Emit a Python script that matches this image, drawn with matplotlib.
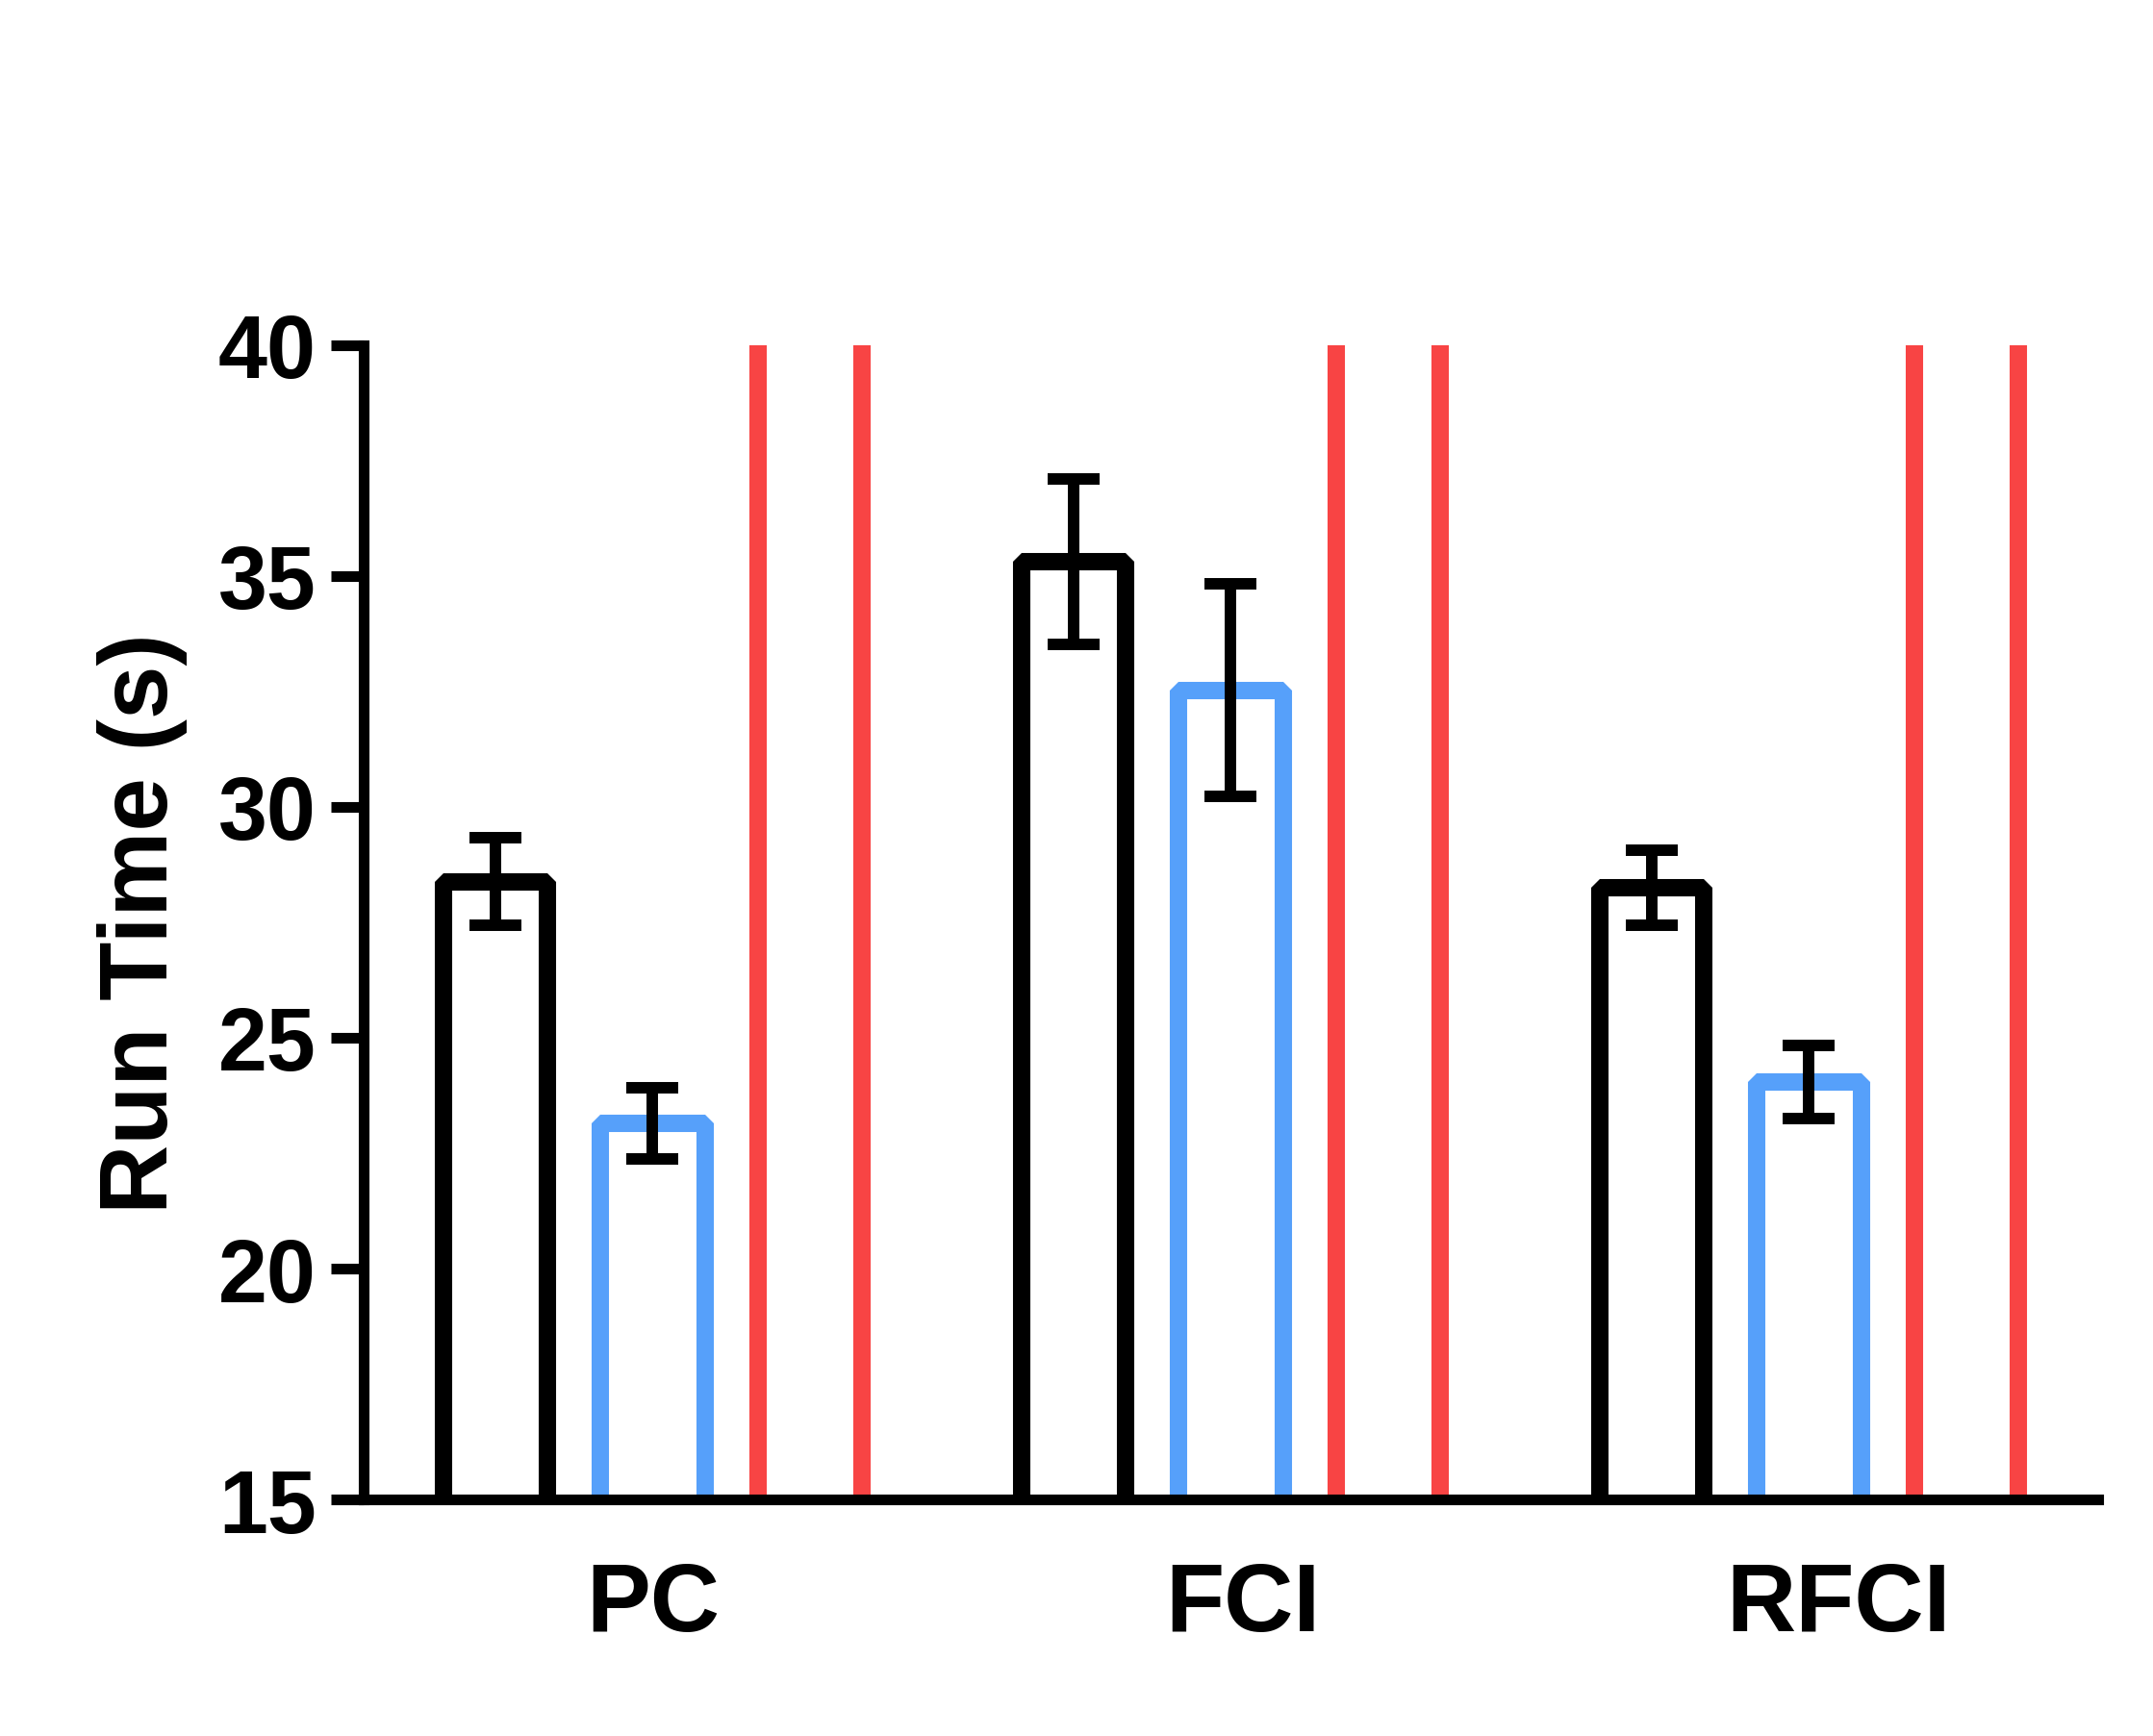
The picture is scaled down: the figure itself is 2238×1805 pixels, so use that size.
import matplotlib.pyplot as plt
import numpy as np

plt.rcParams['font.family'] = ['Liberation Sans', 'DejaVu Sans']
plt.rcParams['font.weight'] = 'bold'

grupos = ['PC', 'FCI', 'RFCI']
# black series, blue series, red series (red ones go above the 40 limit)
preto = [28.38, 35.31, 28.25]
preto_err = [0.95, 1.8, 0.82]
azul = [23.15, 32.53, 24.04]
azul_err = [0.77, 2.3, 0.79]
vermelho = [55.0, 60.0, 58.0]
vermelho_err = [2.0, 2.0, 2.0]

# where the category labels sit (in group units)
pos_rotulos = [0.0, 1.02, 2.05]

fig = plt.figure(figsize=(11.19, 9.03), dpi=200)
ax = fig.add_axes([0.1689, 0.1362, 0.8056, 0.6645])

x = np.arange(len(grupos))
largura = 0.181
passo = 0.272
lw_barra = 6.5
lw_err = 4.3

series = [(preto, preto_err, 'black'), (azul, azul_err, '#56A0FA'), (vermelho, vermelho_err, '#F84444')]
for i, (vals, errs, cor) in enumerate(series):
    xs = x + (i - 1) * passo
    ax.bar(xs, vals, width=largura, facecolor='none', edgecolor=cor,
           linewidth=lw_barra, joinstyle='bevel', zorder=2)
    ax.errorbar(xs, vals, yerr=errs, fmt='none', ecolor='black',
                elinewidth=lw_err, capsize=9.7, capthick=lw_err, zorder=3)

ax.set_xlim(-0.5, 2.5)
ax.set_ylim(15, 40)
ax.set_yticks([15, 20, 25, 30, 35, 40])
ax.set_xticks(pos_rotulos)
ax.set_xticklabels(grupos)

for s in ['top', 'right']:
    ax.spines[s].set_visible(False)
for s in ['left', 'bottom']:
    ax.spines[s].set_linewidth(4)
    ax.spines[s].set_capstyle('projecting')
    ax.spines[s].set_zorder(4)

ax.tick_params(axis='y', length=12.2, width=4, pad=5.4, labelsize=33)
ax.tick_params(axis='x', length=0, pad=22.5, labelsize=36)

ax.set_ylabel('Run Time (s)', fontsize=36, fontweight='bold')
ax.yaxis.set_label_coords(-0.1015, 0.5)

fig.savefig('out.png', dpi=200)
